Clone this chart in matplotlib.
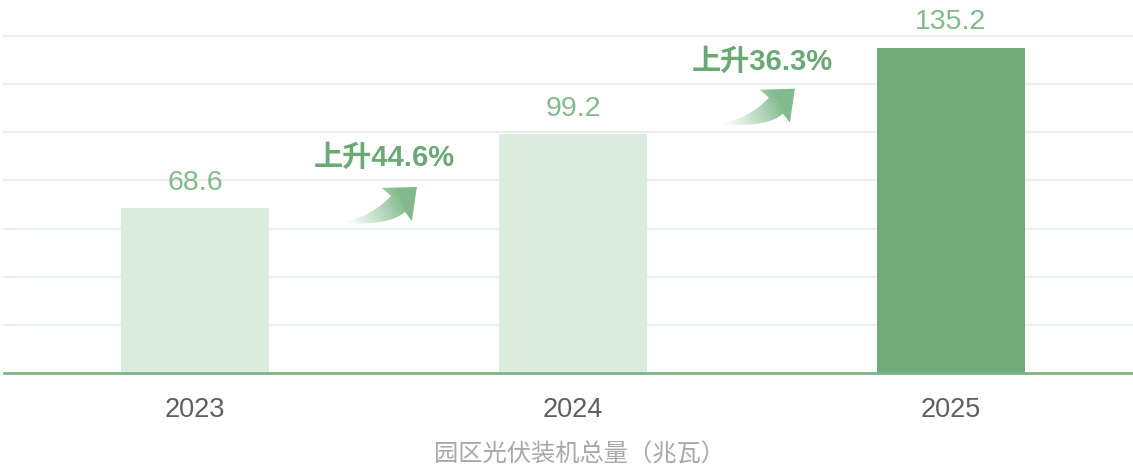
import numpy as np
import matplotlib
matplotlib.use("Agg")
import matplotlib.pyplot as plt
from matplotlib.path import Path
from matplotlib.patches import PathPatch

# ---- data ----
years = ["2023", "2024", "2025"]
capacity = [68.6, 99.2, 135.2]
growth_labels = ["上升44.6%", "上升36.3%"]
growth_label_y = [89.4, 129.3]
arrow_tip = [(0.587, 77.3), (1.587, 118.1)]
y_ticks = [0, 20, 40, 60, 80, 100, 120, 140]
x_title = "园区光伏装机总量（兆瓦）"

W, H = 1133, 469
fig = plt.figure(figsize=(W / 100, H / 100), dpi=100)
fig.patch.set_facecolor("white")

ax = fig.add_axes([4 / W, 96 / H, 1 - 4 / W, 337 / H])
ax.set_xlim(-0.5053, 2.4815)
ax.set_ylim(0, 140)

bar_colors = ["#dcecdf", "#dcecdf", "#6faa78"]
x = np.arange(len(years))
ax.bar(x, capacity, width=0.3915, color=bar_colors, zorder=2)

for v in y_ticks[1:]:
    ax.axhline(v, color="#e8efe9", lw=1.4, zorder=0, clip_on=False)
ax.axhline(0, color="#7db487", lw=2.0, zorder=3, clip_on=False)

for s in ax.spines.values():
    s.set_visible(False)
ax.set_yticks([])
ax.set_xticks(x)
ax.set_xticklabels(years, fontsize=19.5, color="#5e5e5e", family="Liberation Sans")
ax.tick_params(axis="x", length=0, pad=17)

fig.text(580 / W, 1 - 455 / H, x_title, ha="center", va="center",
         fontsize=17.5, color="#a8a8a8", family=["Noto Sans CJK SC", "DejaVu Sans"])

for xi, v in zip(x, capacity):
    ax.annotate(f"{v:.1f}", (xi, v), xytext=(0, 13), textcoords="offset points",
                ha="center", va="baseline", fontsize=20.5, color="#82ba8c",
                family="Liberation Sans")

for i, (lab, ly) in enumerate(zip(growth_labels, growth_label_y)):
    ax.text(i + 0.5, ly, lab, ha="center", va="center", fontsize=21,
            fontweight="bold", color="#6aa874",
            family=["Liberation Sans", "Noto Sans CJK SC", "DejaVu Sans"])

# ---- gradient arrows on a pixel-space overlay ----
over = fig.add_axes([0, 0, 1, 1], zorder=5)
over.set_xlim(0, W)
over.set_ylim(H, 0)
over.axis("off")
over.patch.set_alpha(0)

# shape offsets relative to the tip (pixels, y downward)
shape = [
    (Path.MOVETO, (-75, 35)),
    (Path.CURVE3, (-45, 30)),
    (Path.CURVE3, (-26, 9)),
    (Path.LINETO, (-35, 1)),
    (Path.LINETO, (0, 0)),
    (Path.LINETO, (-5, 34)),
    (Path.LINETO, (-12, 25)),
    (Path.CURVE3, (-27, 39)),
    (Path.CURVE3, (-75, 36)),
    (Path.CLOSEPOLY, (-75, 35)),
]
codes = [c for c, _ in shape]
offs = np.array([p for _, p in shape], dtype=float)

fig.canvas.draw()
rgb = np.array(matplotlib.colors.to_rgb("#74b380"))
for tx, ty in arrow_tip:
    dx, dy = ax.transData.transform((tx, ty))
    px, py = dx, H - dy
    verts = offs + [px, py]
    patch = PathPatch(Path(verts, codes), facecolor="none", edgecolor="none")
    over.add_patch(patch)
    x0, x1 = px - 80, px + 2
    y0, y1 = py - 2, py + 42
    gx, gy = np.meshgrid(np.linspace(x0, x1, 200), np.linspace(y0, y1, 100))
    proj = (gx - (px - 75)) * 0.9 - (gy - (py + 35)) * 0.45
    t = np.clip(proj / 70.0, 0, 1)
    img = np.zeros(gx.shape + (4,))
    img[..., :3] = rgb
    img[..., 3] = np.clip(t ** 1.2 * 1.0, 0, 0.9)
    im = over.imshow(img, extent=(x0, x1, y1, y0), origin="upper",
                     interpolation="bilinear", zorder=5)
    im.set_clip_path(patch)
over.set_xlim(0, W)
over.set_ylim(H, 0)

fig.savefig("out.png", dpi=100)
